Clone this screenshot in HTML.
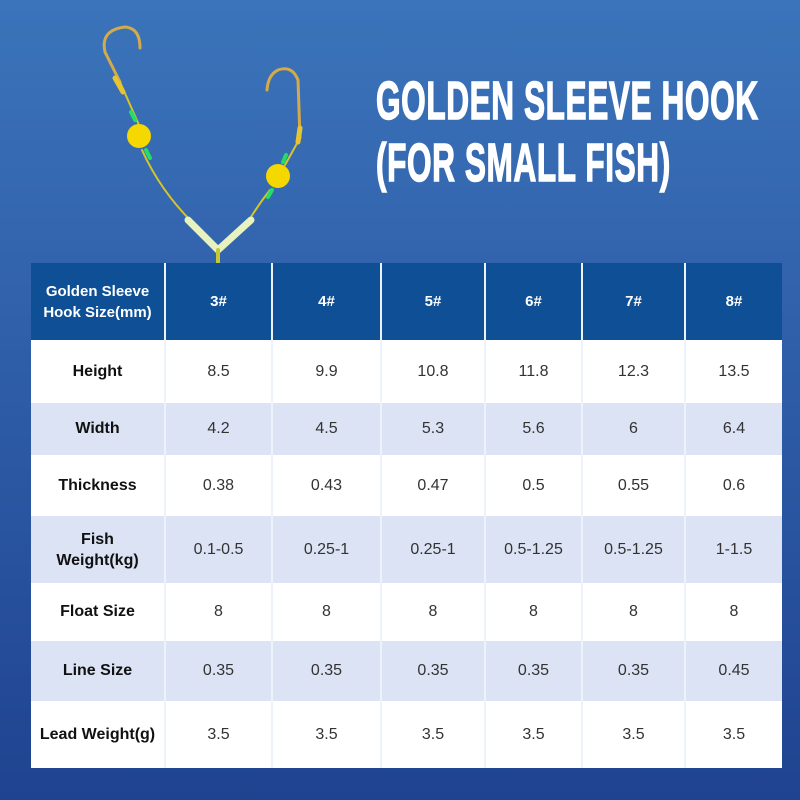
<!DOCTYPE html>
<html><head><style>
body{margin:0;width:800px;height:800px;overflow:hidden;background:linear-gradient(180deg,#3b74ba 0%,#2f5ea8 45%,#1f4390 100%);font-family:"Liberation Sans",sans-serif;position:relative}
.title{position:absolute;left:376px;top:70px;color:#fff;font-weight:bold;font-size:54px;line-height:62px;transform:scaleX(0.585);transform-origin:left top;white-space:nowrap;letter-spacing:1px;-webkit-text-stroke:1.5px #fff}
table{position:absolute;left:31px;top:263px;border-collapse:collapse;width:751px;table-layout:fixed}
td{text-align:center;border-left:2px solid #eef2fa;font-size:16px;color:#333;padding:0}
td:first-child{border-left:none;font-weight:bold;color:#111}
tr.h td{background:#0f4f96;color:#fff;font-weight:bold;font-size:15px;height:77px}
tr.a td{background:#dbe3f4}
tr.w td{background:#fff}
</style></head><body>
<svg width="800" height="270" style="position:absolute;left:0;top:0">
<g fill="none" stroke-linecap="round">
<path d="M120 82 L105 52 Q100 30 125 27 Q140 28 140 48" stroke="#d4aa4a" stroke-width="3"/>
<path d="M300 138 L298 80 Q292 65 278 70 Q268 75 267 90" stroke="#d4aa4a" stroke-width="3"/>
<path d="M120 82 L139 125 M142 150 Q160 190 192 222" stroke="#d6c42a" stroke-width="2"/>
<path d="M300 138 L285 165 M270 190 Q258 205 248 222" stroke="#d6c42a" stroke-width="2"/>
<path d="M115 78 L123 92" stroke="#e8c430" stroke-width="5"/>
<path d="M300 128 L298 142" stroke="#e8c430" stroke-width="5"/>
<path d="M131 112 L135 120 M146 150 L150 158" stroke="#22dd66" stroke-width="4"/>
<path d="M286 155 L283 162 M272 190 L268 197" stroke="#22dd66" stroke-width="4"/>
<path d="M188 220 L218 250 L251 220" stroke="#e8f2c0" stroke-width="7" stroke-linejoin="round"/>
<path d="M218 250 L218 263" stroke="#c8c830" stroke-width="4"/>
</g>
<circle cx="139" cy="136" r="12" fill="#f5d800"/>
<circle cx="278" cy="176" r="12" fill="#f5d800"/>
</svg>
<div class="title">GOLDEN SLEEVE HOOK<br>(FOR SMALL FISH)</div>
<table>
<colgroup><col style="width:134px"><col style="width:107px"><col style="width:109px"><col style="width:104px"><col style="width:97px"><col style="width:103px"><col style="width:97px"></colgroup>
<tr class="h"><td style="line-height:21px">Golden Sleeve<br>Hook Size(mm)</td><td>3#</td><td>4#</td><td>5#</td><td>6#</td><td>7#</td><td>8#</td></tr>
<tr class="w" style="height:63px"><td>Height</td><td>8.5</td><td>9.9</td><td>10.8</td><td>11.8</td><td>12.3</td><td>13.5</td></tr>
<tr class="a" style="height:52px"><td>Width</td><td>4.2</td><td>4.5</td><td>5.3</td><td>5.6</td><td>6</td><td>6.4</td></tr>
<tr class="w" style="height:61px"><td>Thickness</td><td>0.38</td><td>0.43</td><td>0.47</td><td>0.5</td><td>0.55</td><td>0.6</td></tr>
<tr class="a" style="height:67px"><td style="line-height:21px">Fish<br>Weight(kg)</td><td>0.1-0.5</td><td>0.25-1</td><td>0.25-1</td><td>0.5-1.25</td><td>0.5-1.25</td><td>1-1.5</td></tr>
<tr class="w" style="height:58px"><td>Float Size</td><td>8</td><td>8</td><td>8</td><td>8</td><td>8</td><td>8</td></tr>
<tr class="a" style="height:60px"><td>Line Size</td><td>0.35</td><td>0.35</td><td>0.35</td><td>0.35</td><td>0.35</td><td>0.45</td></tr>
<tr class="w" style="height:67px"><td>Lead Weight(g)</td><td>3.5</td><td>3.5</td><td>3.5</td><td>3.5</td><td>3.5</td><td>3.5</td></tr>
</table>
</body></html>
